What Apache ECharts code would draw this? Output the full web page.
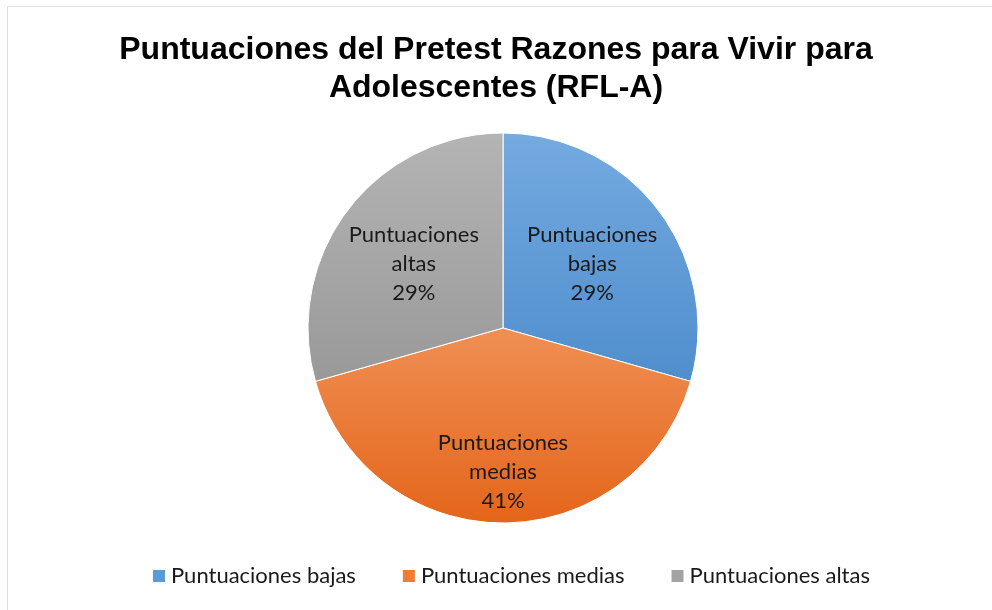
<!DOCTYPE html>
<html>
<head>
<meta charset="utf-8">
<script src="https://cdn.jsdelivr.net/npm/echarts@6/dist/echarts.min.js"></script>
<style>
  html, body { margin: 0; padding: 0; background: #fff; }
  #frame {
    position: absolute; left: 7px; top: 6px;
    width: 1000px; height: 620px;
    border: 1px solid #dcdfe4;
  }
  #myChart { position: absolute; left: 0; top: 0; width: 992px; height: 610px; }
</style>
</head>
<body>
<div id="frame"></div>
<div id="myChart"></div>
<script>
  // datos del gráfico
  const categorias = ['Puntuaciones bajas', 'Puntuaciones medias', 'Puntuaciones altas']
  const valores = [10, 14, 10]
  const etiquetas = ['Puntuaciones\nbajas', 'Puntuaciones\nmedias', 'Puntuaciones\naltas']

  // degradado vertical sobre todo el círculo (y de 133 a 523)
  function grad(c0, c1) {
    return new echarts.graphic.LinearGradient(0, 133, 0, 523, [
      { offset: 0, color: c0 },
      { offset: 1, color: c1 }
    ], true)
  }
  const colores = [
    grad('#74AAE0', '#3A7EC2'),
    grad('#FBB98E', '#E4651A'),
    grad('#B4B4B4', '#8A8A8A')
  ]
  const coloresLeyenda = ['#5A9AD6', '#EF7E33', '#A3A3A3']
  // ajuste de etiquetas (como en Excel)
  const desplaz = [[9, -4], [0, 43], [-9, -4]]

  let myChart = echarts.init(document.getElementById('myChart'))
  myChart.setOption({
    animation: false,
    title: {
      text: 'Puntuaciones del Pretest Razones para Vivir para\nAdolescentes (RFL-A)',
      left: 'center',
      top: 26,
      textStyle: {
        fontFamily: 'Liberation Sans, Arial',
        fontWeight: 'bold',
        fontSize: 32,
        lineHeight: 38,
        color: '#000'
      }
    },
    legend: {
      data: categorias.map((c, i) => ({
        name: c,
        itemStyle: { color: coloresLeyenda[i] }
      })),
      bottom: 18,
      left: 146,
      icon: 'rect',
      itemWidth: 14,
      itemHeight: 14,
      itemGap: 45,
      textStyle: {
        fontFamily: 'Lato',
        fontSize: 22,
        color: '#1a1a1a'
      }
    },
    series: [
      {
        type: 'pie',
        center: [503, 328],
        radius: 195,
        startAngle: 90,
        clockwise: true,
        data: categorias.map((c, i) => ({
          name: c,
          value: valores[i],
          itemStyle: { color: colores[i] }
        })),
        itemStyle: {
          borderColor: '#fff',
          borderWidth: 1
        },
        label: {
          show: true,
          position: 'inside',
          formatter: (p) => etiquetas[p.dataIndex] + '\n' + Math.round(p.percent) + '%',
          fontFamily: 'Lato',
          fontSize: 22,
          lineHeight: 29,
          color: '#1a1a1a',
          align: 'center'
        },
        labelLayout: (p) => ({
          dx: desplaz[p.dataIndex][0],
          dy: desplaz[p.dataIndex][1]
        }),
        emphasis: { disabled: true }
      }
    ]
  })
</script>
</body>
</html>
